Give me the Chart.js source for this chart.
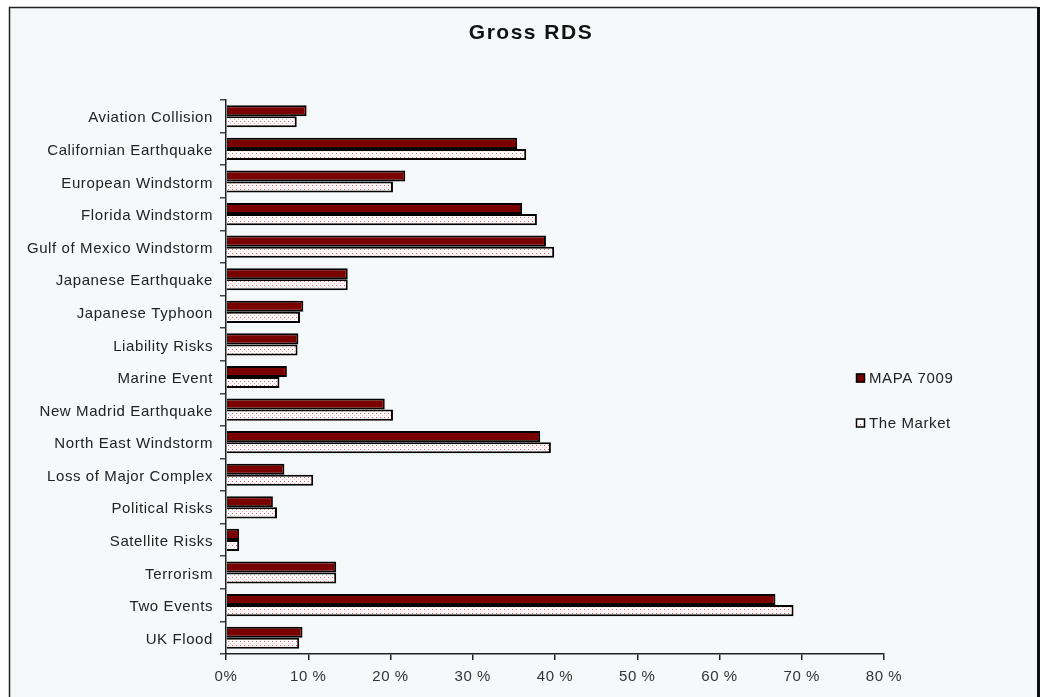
<!DOCTYPE html>
<html>
<head>
<meta charset="utf-8">
<script src="https://cdn.jsdelivr.net/npm/chart.js@4/dist/chart.umd.min.js"></script>
<style>
  html, body { margin: 0; padding: 0; background: #fff; }
  #wrap { width: 1043px; height: 697px; }
</style>
</head>
<body>
<div id="wrap"><canvas id="grossRds"></canvas></div>
<script>
const categories = [
  'Aviation Collision', 'Californian Earthquake', 'European Windstorm', 'Florida Windstorm',
  'Gulf of Mexico Windstorm', 'Japanese Earthquake', 'Japanese Typhoon', 'Liability Risks',
  'Marine Event', 'New Madrid Earthquake', 'North East Windstorm', 'Loss of Major Complex',
  'Political Risks', 'Satellite Risks', 'Terrorism', 'Two Events', 'UK Flood'
];
const mapaValues   = [9.8, 35.4, 21.8, 36.0, 38.9, 14.8, 9.4, 8.8, 7.4, 19.3, 38.2, 7.1, 5.7, 1.6, 13.4, 66.8, 9.3];
const marketValues = [8.6, 36.5, 20.3, 37.8, 39.9, 14.8, 9.0, 8.7, 6.5, 20.3, 39.5, 10.6, 6.2, 1.6, 13.4, 69.0, 8.9];
const seriesNames = ['MAPA 7009', 'The Market'];
const tickLabels = ['0%', '10 %', '20 %', '30 %', '40 %', '50 %', '60 %', '70 %', '80 %'];

const FONT = '"Liberation Sans", Arial, sans-serif';

// dotted fill used for "The Market" bars
function dotPattern() {
  const c = document.createElement('canvas');
  c.width = 4; c.height = 4;
  const g = c.getContext('2d');
  g.fillStyle = '#ffffff';
  g.fillRect(0, 0, 4, 4);
  g.fillStyle = '#c86a6a';
  g.fillRect(0, 1, 1, 1);
  g.fillStyle = '#ebb8b8';
  g.fillRect(2, 3, 1, 1);
  return g.createPattern(c, 'repeat');
}
const marketFill = dotPattern();

const framePlugin = {
  id: 'frame',
  beforeDraw(chart) {
    const ctx = chart.ctx;
    ctx.save();
    ctx.fillStyle = '#f5f9fa';
    ctx.fillRect(9, 7, 1029, 700);
    ctx.strokeStyle = '#222';
    ctx.lineWidth = 1.5;
    ctx.beginPath();
    ctx.moveTo(9.5, 700);
    ctx.lineTo(9.5, 7.5);
    ctx.lineTo(1037, 7.5);
    ctx.stroke();
    ctx.lineWidth = 3;
    ctx.strokeStyle = '#111';
    ctx.beginPath();
    ctx.moveTo(1038.5, 7);
    ctx.lineTo(1038.5, 700);
    ctx.stroke();
    ctx.restore();
    ctx.letterSpacing = '0.6px';
  },
  afterDraw(chart) {
    const ctx = chart.ctx;
    ctx.save();
    // title
    ctx.letterSpacing = '1.5px';
    ctx.fillStyle = '#111';
    ctx.font = 'bold 21px ' + FONT;
    ctx.textAlign = 'center';
    ctx.textBaseline = 'middle';
    ctx.fillText('Gross RDS', 531, 33);
    // legend
    ctx.letterSpacing = '0.6px';
    ctx.font = '15px ' + FONT;
    ctx.textAlign = 'left';
    const rows = [378, 423];
    chart.data.datasets.forEach((ds, i) => {
      const y = rows[i];
      ctx.fillStyle = i === 0 ? ds.backgroundColor : '#ffffff';
      ctx.fillRect(856, y - 4.5, 9, 9);
      if (i === 1) {
        ctx.fillStyle = '#c04040';
        ctx.fillRect(860, y + 1, 1, 1);
      }
      ctx.strokeStyle = '#000';
      ctx.lineWidth = 1.5;
      ctx.strokeRect(856.5, y - 4, 8, 8);
      ctx.fillStyle = '#222';
      ctx.fillText(ds.label, 869, y + 1);
    });
    ctx.restore();
  }
};

new Chart(document.getElementById('grossRds').getContext('2d'), {
  type: 'bar',
  data: {
    labels: categories,
    datasets: [{
      label: seriesNames[0],
      data: mapaValues,
      backgroundColor: '#7a0000',
      borderColor: '#000',
      borderWidth: 2,
      categoryPercentage: 0.68,
      barPercentage: 1.0
    }, {
      label: seriesNames[1],
      data: marketValues,
      backgroundColor: marketFill,
      borderColor: '#000',
      borderWidth: 2,
      categoryPercentage: 0.68,
      barPercentage: 1.0
    }]
  },
  options: {
    indexAxis: 'y',
    responsive: true,
    maintainAspectRatio: false,
    animation: false,
    layout: { padding: { top: 100, right: 159, bottom: 0, left: 0 } },
    plugins: {
      legend: { display: false },
      title: { display: false },
      tooltip: { enabled: false }
    },
    scales: {
      x: {
        min: 0,
        max: 80,
        afterFit(scale) { scale.height = 43; },
        border: { display: true, color: '#222', width: 1.5 },
        grid: { drawOnChartArea: false, drawTicks: true, tickLength: 6, color: '#222', lineWidth: 1.5 },
        ticks: {
          stepSize: 10,
          padding: 8,
          color: '#333',
          font: { family: FONT, size: 15 },
          callback: (v, i) => tickLabels[i]
        }
      },
      y: {
        afterFit(scale) { scale.width = 226; },
        border: { display: true, color: '#222', width: 1.5 },
        grid: { drawOnChartArea: false, drawTicks: true, tickLength: 6, color: '#444', lineWidth: 1.5, offset: true },
        ticks: {
          autoSkip: false,
          padding: 7,
          labelOffset: 2,
          color: '#222',
          font: { family: FONT, size: 15 }
        }
      }
    }
  },
  plugins: [framePlugin]
});
</script>
</body>
</html>
